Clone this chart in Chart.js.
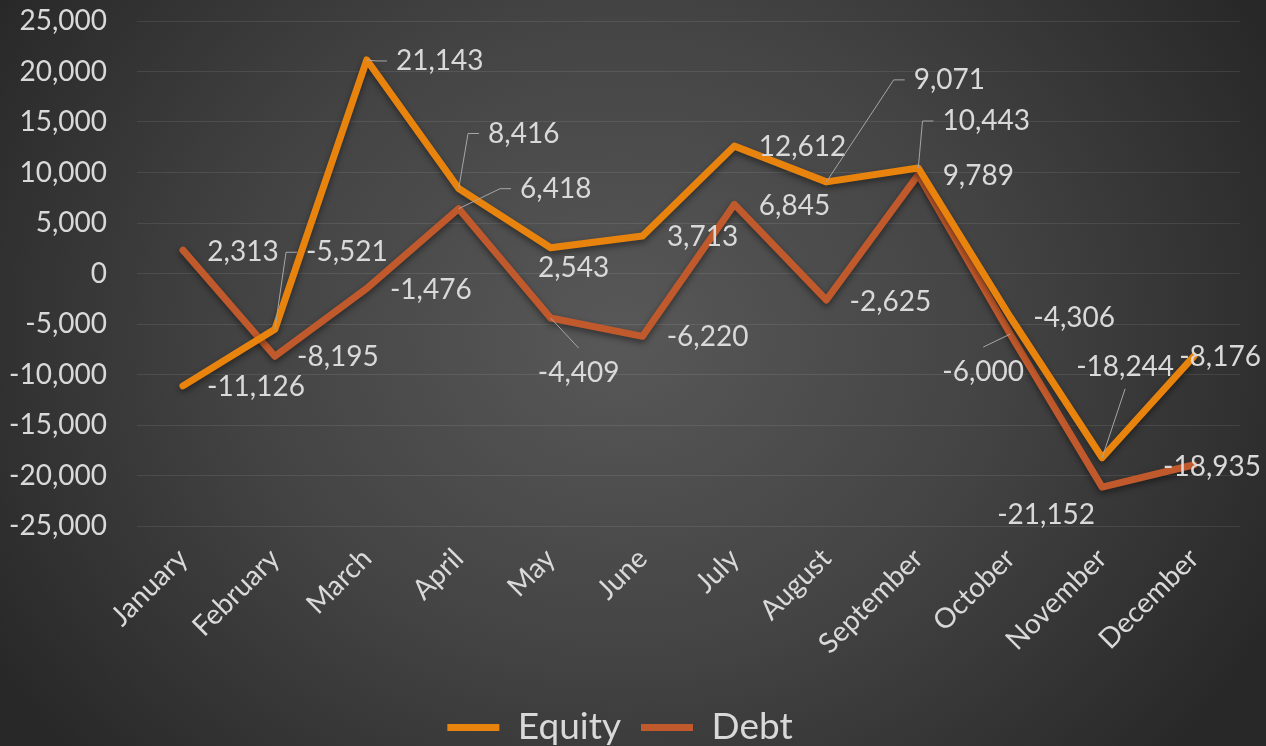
<!DOCTYPE html>
<html>
<head>
<meta charset="utf-8">
<script src="https://cdn.jsdelivr.net/npm/chart.js@4.4.1/dist/chart.umd.min.js"></script>
<style>
  html, body { margin: 0; padding: 0; }
  body {
    width: 1266px;
    height: 746px;
    overflow: hidden;
    background: radial-gradient(ellipse 58% 85% at 49% 45%, #585858 0%, #444444 50%, #282828 100%);
  }
</style>
</head>
<body>
<canvas id="flowChart" width="1266" height="746"></canvas>
<script>
const months = ['January', 'February', 'March', 'April', 'May', 'June',
                'July', 'August', 'September', 'October', 'November', 'December'];
const equity = [-11126, -5521, 21143, 8416, 2543, 3713, 12612, 9071, 10443, -4306, -18244, -8176];
const debt = [2313, -8195, -1476, 6418, -4409, -6220, 6845, -2625, 9789, -6000, -21152, -18935];

const Y_MIN = -25000;
const Y_MAX = 25000;
const Y_STEP = 5000;

const TEXT = '#d9d9d9';
const FONT = 'Lato, "Noto Sans", sans-serif';

// label centre offset from its point, plus optional leader line side
const equityLabelPos = [
    [73, 1], [72, -77, 'left'], [73, 1, 'left'], [65, -55, 'left'], [23, 20], [60, 1],
    [68, 1], [123, -102, 'left'], [68, -47, 'left'], [64, 1], [23, -91, 'bottom'], [26, 1]
];
const debtLabelPos = [
    [60, 2], [63, 1], [64, 2], [97, -20, 'left'], [28, 55, 'top'], [65, 1],
    [60, 2], [64, 2], [60, 1], [-27, 38, 'top'], [-56, 28], [18, 2]
];
const labelPos = [equityLabelPos, debtLabelPos];

const fmt = v => v.toLocaleString('en-US');

// soft drop shadow under the series lines
const lineShadow = {
    id: 'lineShadow',
    beforeDatasetDraw(chart) {
        const c = chart.ctx;
        c.save();
        c.shadowColor = 'rgba(0,0,0,0.45)';
        c.shadowBlur = 6;
        c.shadowOffsetY = 3;
    },
    afterDatasetDraw(chart) {
        chart.ctx.restore();
    }
};

// value labels with leader lines, Excel style
const valueLabels = {
    id: 'valueLabels',
    afterDatasetsDraw(chart) {
        const ctx = chart.ctx;
        ctx.save();
        ctx.font = '28px ' + FONT;
        ctx.textAlign = 'center';
        ctx.textBaseline = 'middle';
        chart.data.datasets.forEach((ds, i) => {
            const meta = chart.getDatasetMeta(i);
            meta.data.forEach((pt, j) => {
                const [dx, dy, leader] = labelPos[i][j];
                const text = fmt(ds.data[j]);
                const cx = pt.x + dx;
                const cy = pt.y + dy;
                if (leader) {
                    const w = ctx.measureText(text).width;
                    ctx.beginPath();
                    ctx.strokeStyle = '#a6a6a6';
                    ctx.lineWidth = 1;
                    ctx.moveTo(pt.x, pt.y);
                    if (leader === 'left') {
                        const l = cx - w / 2;
                        ctx.lineTo(l - 20, cy);
                        ctx.lineTo(l - 9, cy);
                    } else if (leader === 'top') {
                        ctx.lineTo(cx, cy - 25);
                    } else {
                        ctx.lineTo(cx, cy + 22);
                    }
                    ctx.stroke();
                }
                ctx.fillStyle = TEXT;
                ctx.fillText(text, cx, cy);
            });
        });
        ctx.restore();
    }
};

const ctx = document.getElementById('flowChart').getContext('2d');
const flowChart = new Chart(ctx, {
    type: 'line',
    data: {
        labels: months,
        datasets: [
            {
                label: 'Equity',
                data: equity,
                borderColor: '#e8830e',
                backgroundColor: '#e8830e',
                borderWidth: 7,
                borderCapStyle: 'round',
                borderJoinStyle: 'round',
                pointRadius: 0,
                tension: 0
            },
            {
                label: 'Debt',
                data: debt,
                borderColor: '#c0592b',
                backgroundColor: '#c0592b',
                borderWidth: 7,
                borderCapStyle: 'round',
                borderJoinStyle: 'round',
                pointRadius: 0,
                tension: 0
            }
        ]
    },
    options: {
        responsive: false,
        animation: false,
        layout: { padding: { top: 21, right: 26, left: 0, bottom: -10 } },
        scales: {
            x: {
                offset: true,
                grid: { display: false, drawTicks: false },
                border: { display: false },
                ticks: {
                    color: TEXT,
                    font: { family: FONT, size: 28 },
                    minRotation: 45,
                    maxRotation: 45,
                    autoSkip: false,
                    padding: 16
                },
                afterFit: s => { s.height = 163; }
            },
            y: {
                min: Y_MIN,
                max: Y_MAX,
                ticks: {
                    stepSize: Y_STEP,
                    padding: 30,
                    color: TEXT,
                    font: { family: FONT, size: 28 },
                    callback: v => fmt(v)
                },
                grid: { color: 'rgba(255,255,255,0.09)', drawTicks: false },
                border: { display: false },
                afterFit: s => {
                    s.width = 137;
                    s.paddingTop = 0;
                    s.paddingBottom = 0;
                }
            }
        },
        plugins: {
            legend: {
                position: 'bottom',
                labels: {
                    usePointStyle: true,
                    pointStyle: 'line',
                    pointStyleWidth: 52,
                    color: TEXT,
                    font: { family: FONT, size: 37 },
                    padding: 20
                }
            },
            tooltip: { enabled: false }
        }
    },
    plugins: [lineShadow, valueLabels]
});
</script>
</body>
</html>
